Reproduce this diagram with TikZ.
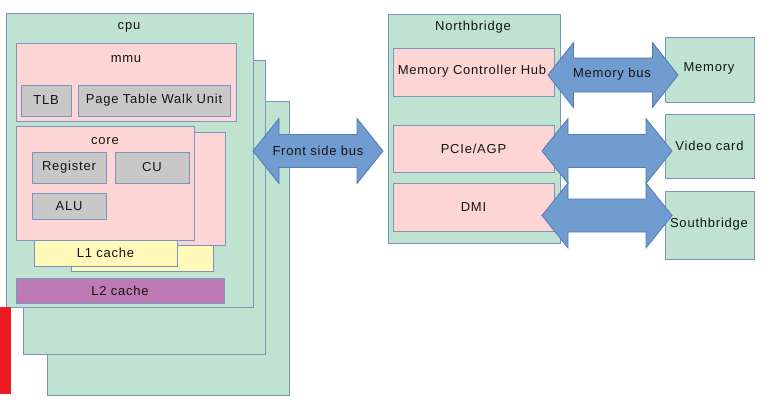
\documentclass[tikz,border=0pt]{standalone}
\usepackage{fontspec}
\setmainfont{Liberation Sans}[LetterSpace=6]
\definecolor{grn}{RGB}{191,226,209}
\definecolor{pnk}{RGB}{252,213,212}
\definecolor{gry}{RGB}{200,200,200}
\definecolor{ylw}{RGB}{255,250,186}
\definecolor{prp}{RGB}{189,122,181}
\definecolor{edg}{RGB}{120,150,192}
\definecolor{arf}{RGB}{112,156,208}
\definecolor{are}{RGB}{84,124,178}
\definecolor{redbar}{RGB}{237,28,36}
\definecolor{txt}{RGB}{20,20,20}
\newcommand\bx[6]{\node[box,fill=#2,minimum width={(#5)-(#3)},minimum height={(#6)-(#4)}] (#1) at ({((#3)+(#5))/2},{((#4)+(#6))/2}) {};}
\newcommand\dbl[7]{\draw[busarrow] (#2,#4) -- ({#2+#7},{#4-#5}) -- ({#2+#7},{#4-#6}) -- ({#3-#7},{#4-#6}) -- ({#3-#7},{#4-#5}) -- (#3,#4) -- ({#3-#7},{#4+#5}) -- ({#3-#7},{#4+#6}) -- ({#2+#7},{#4+#6}) -- ({#2+#7},{#4+#5}) -- cycle;
  \coordinate (#1) at ({(#2+#3)/2},#4);}
\begin{document}
\begin{tikzpicture}[x=1pt,y=-1pt,
  box/.style={draw=edg,line width=0.9pt,inner sep=0pt,outer sep=0pt,rectangle},
  busarrow/.style={fill=arf,draw=are,line width=0.8pt,line join=miter},
  lbl/.style={font=\fontsize{13}{15}\selectfont,text=txt,inner sep=0pt}]
\useasboundingbox (0,0) rectangle (773,404);
% cpu stack
\bx{cpuC}{grn}{47}{101}{289}{395}
\bx{cpuB}{grn}{23}{60}{265}{354}
\bx{cpu}{grn}{6}{13}{253}{307}
\fill[redbar] (0,307) rectangle (11,394);
% mmu
\bx{mmu}{pnk}{16}{43}{236}{121}
\bx{tlb}{gry}{21}{85}{71}{116}
\bx{ptwu}{gry}{78}{85}{230}{116}
% L1 caches and cores
\bx{lonb}{ylw}{71}{245}{213}{271}
\bx{coreb}{pnk}{47}{132}{225}{245}
\bx{lona}{ylw}{34}{240}{177}{266}
\bx{core}{pnk}{16}{126}{194}{240}
\bx{reg}{gry}{32}{152}{106}{183}
\bx{cu}{gry}{115}{152}{189}{183}
\bx{alu}{gry}{32}{193}{106}{219}
% L2
\bx{ltwo}{prp}{16}{278}{224}{303}
% northbridge
\bx{nb}{grn}{388}{14}{560}{243}
\bx{mch}{pnk}{393}{48}{554}{96}
\bx{pcie}{pnk}{393}{125}{554}{172}
\bx{dmi}{pnk}{393}{183}{554}{231}
% devices
\bx{mem}{grn}{665}{37}{754}{102}
\bx{vid}{grn}{665}{114}{754}{178}
\bx{sb}{grn}{665}{191}{754}{259}
% buses
\dbl{fsb}{253}{383}{151}{32.5}{16.5}{26}
\dbl{membus}{548}{678}{75}{32.5}{17}{25.5}
\dbl{pciebus}{542}{672}{151}{32.5}{16.5}{26}
\dbl{dmibus}{542}{672}{215.5}{32.5}{16.5}{26}
% labels
\node[lbl] (cpuL) at (129,27) {cpu};
\node[lbl] (mmuL) at (126,59) {mmu};
\node[lbl] at (tlb) {TLB};
\node[lbl] at (ptwu) {Page Table Walk Unit};
\node[lbl] (coreL) at (105,141) {core};
\node[lbl] at (reg) {Register};
\node[lbl] at (cu) {CU};
\node[lbl] at (alu) {ALU};
\node[lbl] at (lona) {L1 cache};
\node[lbl] at (ltwo) {L2 cache};
\node[lbl] (nbL) at (473,27) {Northbridge};
\node[lbl] at (472,71) {Memory Controller Hub};
\node[lbl] at (pcie) {PCIe/AGP};
\node[lbl] at (dmi) {DMI};
\node[lbl] at (709,68) {Memory};
\node[lbl] at (vid) {Video card};
\node[lbl] at (709,224) {Southbridge};
\node[lbl] at (fsb) {Front side bus};
\node[lbl] at (612,74) {Memory bus};
\end{tikzpicture}
\end{document}
